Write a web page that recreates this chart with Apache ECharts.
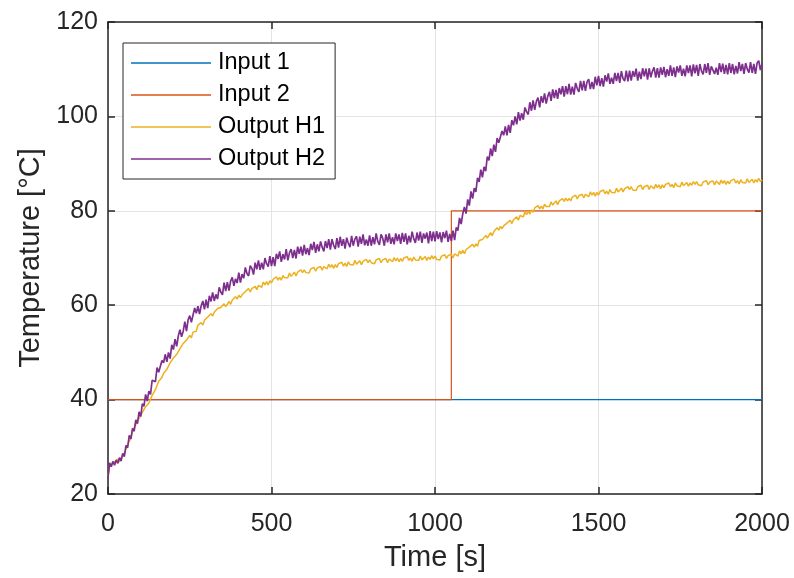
<!DOCTYPE html>
<html>
<head>
<meta charset="utf-8">
<script src="https://cdn.jsdelivr.net/npm/echarts@6/dist/echarts.min.js"></script>
<style>
html,body{margin:0;padding:0;background:#fff;}
#chart{width:794px;height:578px;}
</style>
</head>
<body>
<div id="chart"></div>
<script>
// ---- data ----
var sampleStep = 5; // seconds between samples of the output series
var xTicks = [0, 500, 1000, 1500, 2000];
var yTicks = [20, 40, 60, 80, 100, 120];
var seriesNames = ['Input 1', 'Input 2', 'Output H1', 'Output H2'];

var input1 = [[0, 40], [2000, 40]];
var input2 = [[0, 40], [1050, 40], [1050, 80], [2000, 80]];

var outputH1 = [
23.8,25.8,26.3,25.9,26.8,26.5,27.4,26.8,27.6,27.8,28.7,28.8,30.5,31.2,31.7,33.4,33.4,34.7,34.7,36.0,
36.0,37.3,37.4,38.5,38.2,39.3,39.2,40.9,41.1,42.1,42.3,43.9,43.8,44.7,45.6,45.2,46.4,46.5,47.8,47.7,
48.8,48.7,49.6,49.5,50.8,50.8,51.9,51.5,52.6,52.7,53.6,53.1,54.3,54.5,54.5,55.8,55.5,56.3,55.8,56.8,
56.5,57.5,57.3,58.2,57.7,58.5,58.1,59.3,59.0,59.5,59.2,60.3,59.7,60.2,60.8,60.2,61.1,60.8,61.8,61.3,
62.1,61.6,62.2,61.9,62.9,62.6,63.5,62.8,63.5,63.4,64.0,63.3,64.2,64.1,63.8,64.9,64.3,65.0,64.3,65.2,
64.7,65.5,65.2,66.0,65.3,65.9,65.3,66.3,65.8,66.2,65.8,66.8,66.1,66.5,67.0,66.2,67.0,66.6,67.5,66.9,
67.5,66.9,67.3,66.8,67.7,67.3,68.0,67.2,67.9,67.7,68.2,67.4,68.2,68.0,67.7,68.7,68.0,68.6,67.8,68.6,
68.0,68.8,68.4,69.1,68.3,68.9,68.2,69.2,68.6,69.0,68.5,69.5,68.7,69.0,69.4,68.6,69.3,68.9,69.7,69.0,
69.6,69.0,69.4,68.8,69.6,69.2,69.9,69.0,69.6,69.4,69.9,69.0,69.8,69.6,69.2,70.1,69.4,70.0,69.2,69.9,
69.3,70.0,69.6,70.3,69.5,70.0,69.3,70.2,69.6,70.0,69.5,70.4,69.6,69.9,70.3,69.5,70.2,69.7,70.5,69.8,
70.4,69.7,70.1,69.6,70.4,70.0,70.7,69.9,70.5,70.3,70.8,70.0,70.9,70.7,70.4,71.5,70.9,71.6,70.9,71.8,
71.4,72.3,72.1,72.9,72.3,73.0,72.5,73.7,73.3,73.9,73.6,74.8,74.2,74.8,75.4,74.7,75.6,75.4,76.4,75.9,
76.7,76.2,76.8,76.4,77.4,77.1,78.0,77.3,78.1,78.0,78.7,78.0,79.0,78.9,78.7,79.8,79.2,79.9,79.3,80.2,
79.7,80.6,80.3,81.1,80.4,81.0,80.4,81.4,80.9,81.3,80.9,81.9,81.2,81.6,82.1,81.3,82.1,81.7,82.6,82.0,
82.7,82.1,82.6,82.1,82.9,82.5,83.3,82.5,83.2,83.0,83.5,82.7,83.5,83.3,83.0,84.0,83.3,83.9,83.1,83.9,
83.3,84.1,83.7,84.4,83.6,84.2,83.5,84.5,83.9,84.3,83.8,84.8,84.0,84.4,84.8,84.0,84.7,84.3,85.1,84.5,
85.1,84.4,84.8,84.3,85.1,84.7,85.4,84.5,85.1,84.9,85.4,84.5,85.3,85.1,84.7,85.6,84.9,85.5,84.7,85.5,
84.9,85.6,85.2,85.9,85.1,85.6,84.9,85.9,85.3,85.6,85.1,86.1,85.3,85.6,86.0,85.2,85.9,85.4,86.2,85.6,
86.2,85.5,85.9,85.3,86.1,85.7,86.4,85.5,86.1,85.8,86.3,85.5,86.3,86.0,85.6,86.5,85.8,86.4,85.6,86.3,
85.7,86.4,86.0,86.7,85.9,86.4,85.7,86.6,86.0,86.4,85.9,86.8,86.0,86.3,86.7,85.9,86.6,86.1,86.9,86.2,
86.6
];

var outputH2 = [
23.5,26.6,25.8,26.9,26.1,27.2,26.5,27.7,27.0,28.6,27.9,30.3,29.8,32.4,31.7,33.9,33.3,35.7,34.9,37.4,
36.4,39.1,38.6,41.1,39.7,41.8,41.1,44.1,44.2,43.8,46.8,45.8,45.8,48.3,47.8,49.6,48.0,50.0,48.7,51.6,
50.6,52.8,51.3,53.5,54.8,53.3,54.5,56.5,54.5,56.9,57.8,56.4,56.5,59.4,58.3,59.8,58.1,59.9,60.9,59.1,
61.2,59.4,62.0,60.8,62.7,60.9,62.3,61.3,63.8,62.8,62.2,64.8,63.0,64.9,63.1,65.1,65.9,64.1,65.6,64.7,
66.9,64.8,66.6,65.7,68.0,66.7,66.2,68.4,67.8,66.5,69.0,67.6,69.5,67.5,69.0,67.6,70.0,68.8,68.2,70.4,
68.3,70.2,68.3,70.9,69.8,71.4,69.2,70.8,69.7,71.9,69.5,71.1,71.9,70.0,71.7,69.9,72.4,70.9,72.4,70.5,
72.8,70.8,72.1,70.6,73.0,71.7,73.4,71.1,72.9,71.4,73.5,72.3,71.4,73.6,72.1,74.0,71.8,74.0,72.7,71.9,
74.2,72.2,74.5,72.6,74.0,72.0,74.3,73.1,72.3,74.7,72.6,74.0,74.6,72.4,74.5,73.0,75.0,72.7,73.9,72.6,
74.8,72.6,74.4,72.9,75.2,73.5,72.8,75.0,74.2,72.6,75.0,73.3,75.2,73.0,74.4,72.9,75.2,73.6,75.0,73.0,
75.3,73.4,75.2,72.9,74.7,73.3,75.6,74.1,73.2,75.4,73.7,75.6,73.2,75.2,74.1,75.4,73.1,75.7,73.6,75.6,
73.5,75.7,74.0,75.4,73.3,75.5,74.2,75.8,73.4,75.1,73.6,75.8,73.8,76.5,75.8,78.5,77.2,79.4,80.8,79.4,
82.4,81.1,84.1,82.6,84.8,84.0,87.0,86.1,88.7,87.1,89.3,88.4,91.5,90.7,93.2,91.6,94.0,92.5,95.4,94.4,
94.2,96.9,96.0,97.9,96.0,98.2,96.5,99.2,98.1,100.0,98.3,100.9,99.1,100.7,99.3,101.9,101.0,100.4,103.0,101.2,
103.4,101.4,103.2,104.0,101.9,104.3,102.9,104.9,102.7,104.3,105.2,103.3,105.7,103.9,105.6,103.7,106.0,104.7,106.4,104.2,
106.4,104.7,106.9,104.6,106.3,104.6,107.1,105.9,105.2,107.5,105.5,107.5,105.4,107.3,107.9,105.8,107.3,105.8,108.4,106.6,
108.6,106.4,108.1,106.3,108.7,107.4,109.1,106.9,108.2,106.9,109.2,107.5,109.2,107.1,109.6,108.0,107.5,109.7,107.4,109.7,
107.6,109.6,108.4,110.1,107.6,109.5,107.9,110.2,108.5,110.1,107.8,110.2,108.3,109.6,110.4,108.2,110.2,108.2,110.4,108.8,
110.5,108.3,110.0,108.6,110.8,108.6,110.4,108.3,110.6,109.3,110.8,108.6,110.1,108.5,110.8,109.2,110.8,108.5,111.0,109.1,
110.9,108.6,111.1,109.6,108.9,111.1,109.2,111.3,108.8,110.6,111.0,109.0,110.3,108.8,111.3,109.4,111.2,109.0,110.9,108.9,
111.3,109.2,111.1,108.9,110.7,109.1,111.5,109.6,111.1,109.0,111.3,110.0,109.3,111.5,109.2,111.1,109.0,111.3,111.8,109.8,
111.2
];

function toPairs(values) {
  return values.map(function (v, i) { return [i * sampleStep, v]; });
}

// ---- chart ----
var FONT = '"Liberation Sans", Arial, Helvetica, sans-serif';
var AX = '#262626';
var chart = echarts.init(document.getElementById('chart'), null, {renderer: 'canvas'});

var boxAxisCommon = {
  axisLine: {show: true, onZero: false, lineStyle: {color: AX, width: 1.5}},
  axisTick: {show: true, inside: true, length: 7, lineStyle: {color: AX, width: 1.5}},
  axisLabel: {show: false},
  splitLine: {show: false}
};

chart.setOption({
  animation: false,
  backgroundColor: '#ffffff',
  color: ['#0072BD', '#D95319', '#EDB120', '#7E2F8E'],
  grid: {left: 108, right: 32, top: 22, bottom: 84, containLabel: false},
  legend: {
    orient: 'vertical',
    left: 123, top: 43,
    data: seriesNames,
    icon: 'rect',
    itemWidth: 80, itemHeight: 1.6, itemGap: 8,
    padding: [8, 10, 8, 8],
    backgroundColor: '#ffffff',
    borderColor: AX, borderWidth: 1, borderRadius: 0,
    textStyle: {fontFamily: FONT, fontSize: 23.5, color: '#000', lineHeight: 24, padding: [0, 0, 0, 2]},
    selectedMode: false
  },
  xAxis: [
    {
      type: 'value', min: xTicks[0], max: xTicks[xTicks.length - 1], interval: 500,
      name: 'Time [s]', nameLocation: 'middle', nameGap: 49,
      nameTextStyle: {fontFamily: FONT, fontSize: 29, color: AX},
      axisLine: {show: true, onZero: false, lineStyle: {color: AX, width: 1.5}},
      axisTick: {show: true, inside: true, length: 7, lineStyle: {color: AX, width: 1.5}},
      axisLabel: {fontFamily: FONT, fontSize: 25, color: AX, margin: 18,
        formatter: function (v) { return String(v); }},
      splitLine: {show: true, lineStyle: {color: '#e3e3e3', width: 1}}
    },
    Object.assign({type: 'value', position: 'top', min: xTicks[0], max: xTicks[xTicks.length - 1], interval: 500}, boxAxisCommon)
  ],
  yAxis: [
    {
      type: 'value', min: yTicks[0], max: yTicks[yTicks.length - 1], interval: 20,
      name: 'Temperature [°C]', nameLocation: 'middle', nameGap: 62,
      nameTextStyle: {fontFamily: FONT, fontSize: 29, color: AX},
      axisLine: {show: true, onZero: false, lineStyle: {color: AX, width: 1.5}},
      axisTick: {show: true, inside: true, length: 7, lineStyle: {color: AX, width: 1.5}},
      axisLabel: {fontFamily: FONT, fontSize: 25, color: AX, margin: 10},
      splitLine: {show: true, lineStyle: {color: '#e3e3e3', width: 1}}
    },
    Object.assign({type: 'value', position: 'right', min: yTicks[0], max: yTicks[yTicks.length - 1], interval: 20}, boxAxisCommon)
  ],
  series: [
    {name: seriesNames[0], type: 'line', data: input1, symbol: 'none', lineStyle: {width: 1.2}, z: 2},
    {name: seriesNames[1], type: 'line', data: input2, symbol: 'none', lineStyle: {width: 1.2}, z: 3},
    {name: seriesNames[2], type: 'line', data: toPairs(outputH1), symbol: 'none', lineStyle: {width: 1.5}, z: 4},
    {name: seriesNames[3], type: 'line', data: toPairs(outputH2), symbol: 'none', lineStyle: {width: 1.7}, z: 5}
  ]
});
</script>
</body>
</html>
